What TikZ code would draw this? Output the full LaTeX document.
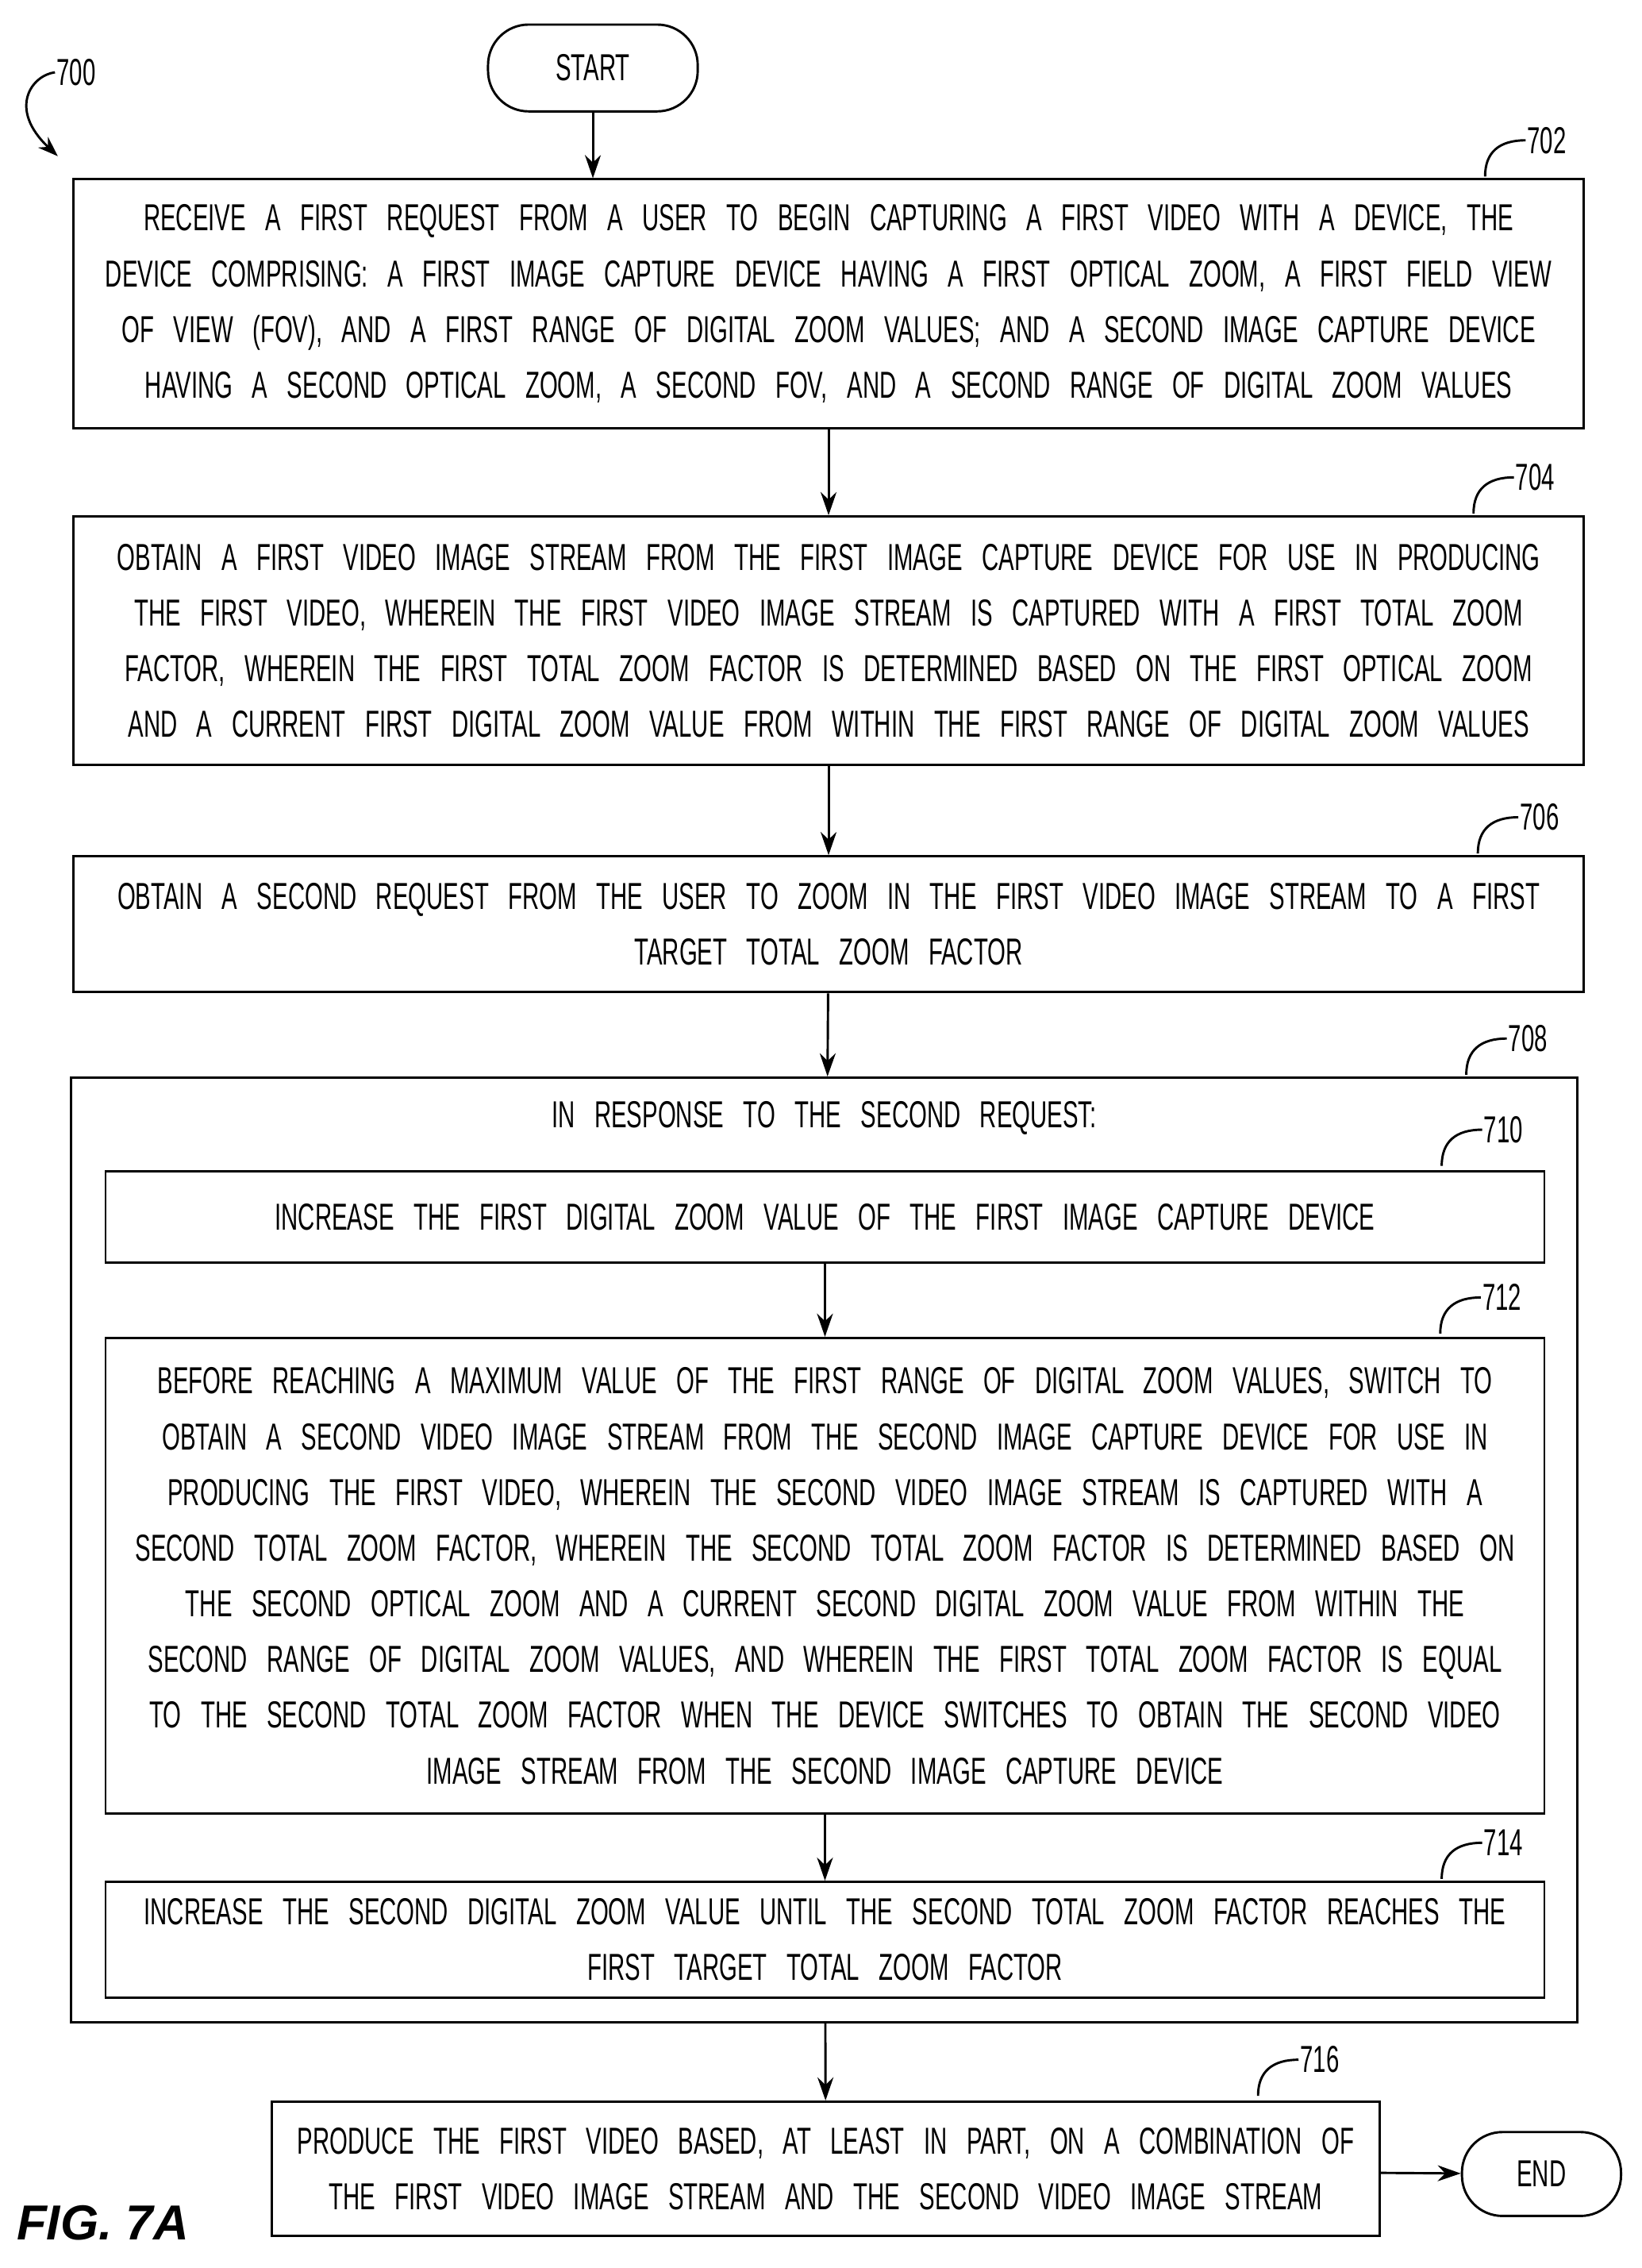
\documentclass[tikz,border=0pt]{standalone}
\usepackage{fontspec}
\setmainfont{Liberation Sans}[FakeStretch=0.62,WordSpace=3]
\newfontfamily\figfont{Liberation Sans}
\usetikzlibrary{arrows.meta,positioning,calc}

\begin{document}
\begin{tikzpicture}[x=1pt,y=-1pt]
    \tikzset{
        stepbox/.style={draw=black,line width=1.6pt,align=center,font=\fontsize{26}{38.5}\selectfont,inner sep=0pt},
        term/.style={draw=black,line width=1.6pt,rounded corners=28pt,font=\fontsize{26}{28}\selectfont,inner sep=0pt},
        fwd/.style={draw=black,line width=1.6pt,-{Stealth[length=16pt,width=11pt]}},
        refnum/.style={font=\fontsize{26}{28}\selectfont,anchor=west,inner sep=1pt},
        tick/.style={draw=black,line width=1.6pt}
    }
    \useasboundingbox (0,0) rectangle (1135,1568);

    % terminals
    \node[term,minimum width=145pt,minimum height=60pt] (start) at (410,47) {START};
    \node[term,minimum width=110pt,minimum height=58pt] (end) at (1066,1503) {END};

    % steps
    \node[stepbox,minimum width=1044pt,minimum height=172pt] (s702) at (573,210)
        {RECEIVE A FIRST REQUEST FROM A USER TO BEGIN CAPTURING A FIRST VIDEO WITH A DEVICE, THE\\
         DEVICE COMPRISING: A FIRST IMAGE CAPTURE DEVICE HAVING A FIRST OPTICAL ZOOM, A FIRST FIELD VIEW\\
         OF VIEW (FOV), AND A FIRST RANGE OF DIGITAL ZOOM VALUES; AND A SECOND IMAGE CAPTURE DEVICE\\
         HAVING A SECOND OPTICAL ZOOM, A SECOND FOV, AND A SECOND RANGE OF DIGITAL ZOOM VALUES};
    \node[stepbox,minimum width=1044pt,minimum height=172pt] (s704) at (573,443)
        {OBTAIN A FIRST VIDEO IMAGE STREAM FROM THE FIRST IMAGE CAPTURE DEVICE FOR USE IN PRODUCING\\
         THE FIRST VIDEO, WHEREIN THE FIRST VIDEO IMAGE STREAM IS CAPTURED WITH A FIRST TOTAL ZOOM\\
         FACTOR, WHEREIN THE FIRST TOTAL ZOOM FACTOR IS DETERMINED BASED ON THE FIRST OPTICAL ZOOM\\
         AND A CURRENT FIRST DIGITAL ZOOM VALUE FROM WITHIN THE FIRST RANGE OF DIGITAL ZOOM VALUES};
    \node[stepbox,minimum width=1044pt,minimum height=94pt] (s706) at (573,639)
        {OBTAIN A SECOND REQUEST FROM THE USER TO ZOOM IN THE FIRST VIDEO IMAGE STREAM TO A FIRST\\
         TARGET TOTAL ZOOM FACTOR};
    \node[stepbox,minimum width=1042pt,minimum height=653pt] (s708) at (570,1071.5) {};
    \node[stepbox,draw=none] (head) at (570,773) {IN RESPONSE TO THE SECOND REQUEST:};
    \node[stepbox,minimum width=995pt,minimum height=63pt] (s710) at (570.5,841.5)
        {INCREASE THE FIRST DIGITAL ZOOM VALUE OF THE FIRST IMAGE CAPTURE DEVICE};
    \node[stepbox,minimum width=995pt,minimum height=329pt] (s712) at (570.5,1089.5)
        {BEFORE REACHING A MAXIMUM VALUE OF THE FIRST RANGE OF DIGITAL ZOOM VALUES, SWITCH TO\\
         OBTAIN A SECOND VIDEO IMAGE STREAM FROM THE SECOND IMAGE CAPTURE DEVICE FOR USE IN\\
         PRODUCING THE FIRST VIDEO, WHEREIN THE SECOND VIDEO IMAGE STREAM IS CAPTURED WITH A\\
         SECOND TOTAL ZOOM FACTOR, WHEREIN THE SECOND TOTAL ZOOM FACTOR IS DETERMINED BASED ON\\
         THE SECOND OPTICAL ZOOM AND A CURRENT SECOND DIGITAL ZOOM VALUE FROM WITHIN THE\\
         SECOND RANGE OF DIGITAL ZOOM VALUES, AND WHEREIN THE FIRST TOTAL ZOOM FACTOR IS EQUAL\\
         TO THE SECOND TOTAL ZOOM FACTOR WHEN THE DEVICE SWITCHES TO OBTAIN THE SECOND VIDEO\\
         IMAGE STREAM FROM THE SECOND IMAGE CAPTURE DEVICE};
    \node[stepbox,minimum width=995pt,minimum height=80pt] (s714) at (570.5,1341)
        {INCREASE THE SECOND DIGITAL ZOOM VALUE UNTIL THE SECOND TOTAL ZOOM FACTOR REACHES THE\\
         FIRST TARGET TOTAL ZOOM FACTOR};
    \node[stepbox,minimum width=766pt,minimum height=93pt] (s716) at (571,1499.5)
        {PRODUCE THE FIRST VIDEO BASED, AT LEAST IN PART, ON A COMBINATION OF\\
         THE FIRST VIDEO IMAGE STREAM AND THE SECOND VIDEO IMAGE STREAM};

    % reference numbers
    \foreach \nm/\x/\y in {702/1055/97, 704/1047/330, 706/1050/565, 708/1042/718,
                           710/1025/781, 712/1024/897, 714/1025/1274, 716/898/1424} {
        \node[refnum] (n\nm) at (\x,\y) {\nm};
        \draw[tick] (n\nm.west) .. controls ($(n\nm.west)+(-18,0)$) and ($(n\nm.west)+(-28,8)$) .. ($(n\nm.west)+(-28,25)$);
    }
    \node[refnum] (n700) at (38,50) {700};
    \draw[tick,-{Stealth[length=14pt,width=10pt]}] (n700.west) .. controls (22,52) and (5,75) .. (40,108);

    % flow
    \draw [fwd] (start) -- (start |- s702.north);
    \draw [fwd] (s702) -- (s704);
    \draw [fwd] (s704) -- (s706);
    \draw [fwd] (s706) -- (s708);
    \draw [fwd] (s710) -- (s712);
    \draw [fwd] (s712) -- (s714);
    \draw [fwd] (s708) -- (s716);
    \draw [fwd] (s716) -- (end);

    \node[font=\figfont\bfseries\itshape\fontsize{34}{40}\selectfont,anchor=west] (fig) at (8,1537) {FIG. 7A};
\end{tikzpicture}
\end{document}
